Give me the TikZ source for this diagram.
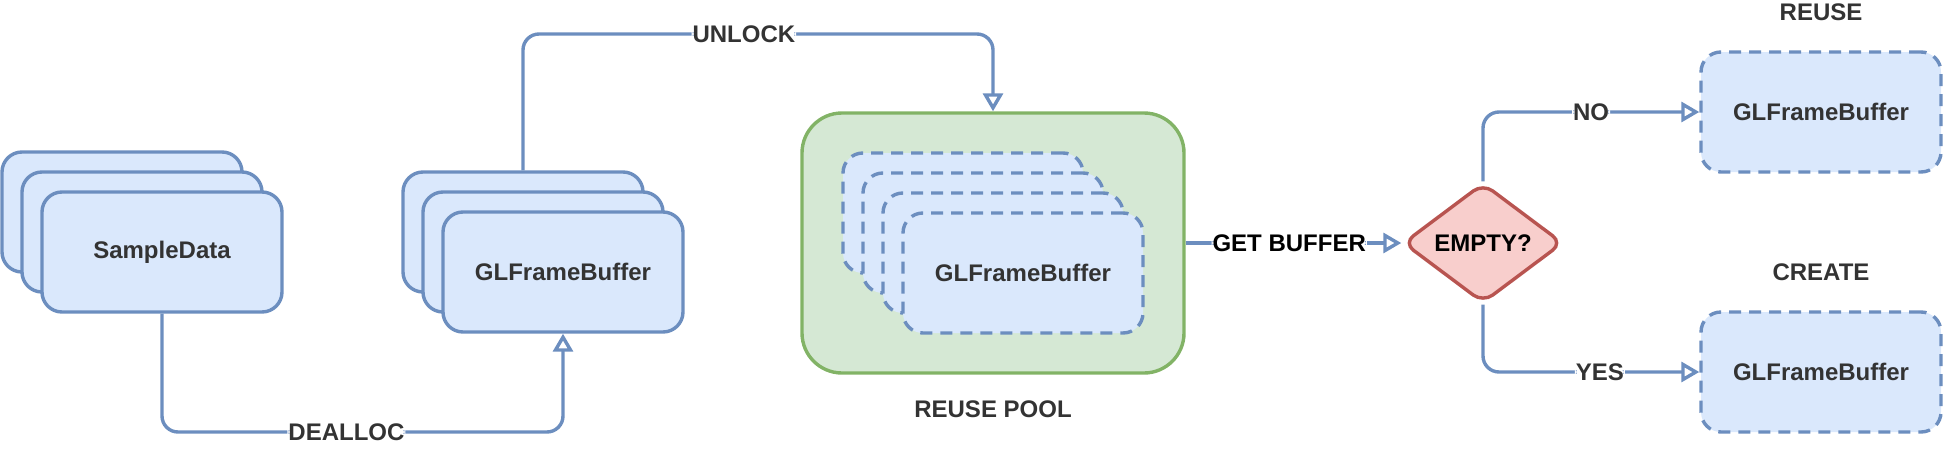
\documentclass[tikz,border=0pt]{standalone}
\usepackage{fontspec}
\setmainfont{Liberation Sans}
\usetikzlibrary{arrows.meta,shapes.geometric}
\definecolor{bfill}{HTML}{DAE8FC}
\definecolor{bline}{HTML}{6C8EBF}
\definecolor{gfill}{HTML}{D5E8D4}
\definecolor{gline}{HTML}{82B366}
\definecolor{rfill}{HTML}{F8CECC}
\definecolor{rline}{HTML}{B85450}
\definecolor{txt}{HTML}{333333}
\begin{document}
\begin{tikzpicture}[x=1pt, y=-1pt,
        font=\fontsize{12}{14}\selectfont\bfseries,
        buf/.style={draw=bline, fill=bfill, line width=1.7pt, rounded corners=10pt,
            minimum width=120pt, minimum height=60pt, inner sep=0pt, text=txt},
        free/.style={buf, dash pattern=on 6pt off 4pt},
        pool/.style={draw=gline, fill=gfill, line width=1.7pt, rounded corners=20pt,
            minimum width=191pt, minimum height=130pt, inner sep=0pt},
        test/.style={diamond, draw=rline, fill=rfill, line width=1.7pt, rounded corners=6pt,
            minimum width=80pt, minimum height=60pt, inner sep=0pt, aspect=1.333},
        flow/.style={draw=bline, line width=1.7pt, rounded corners=8pt,
            -{Triangle[length=9pt, width=10pt, fill=white, line width=1.7pt]}},
        lbl/.style={fill=white, inner sep=0.5pt, text=txt},
        title/.style={text=txt}]
    \useasboundingbox (0,0) rectangle (972,225);

    % ---------- sample data stack ----------
    \node[buf] (sd1) at (61,106) {};
    \node[buf] (sd2) at (71,116) {};
    \node[buf] (sd3) at (81,126) {SampleData};

    % ---------- locked frame buffers ----------
    \node[buf] (gl1) at (261.5,116) {};
    \node[buf] (gl2) at (271.5,126) {};
    \node[buf] (gl3) at (281.5,136) {GLFrameBuffer};

    % ---------- reuse pool ----------
    \node[pool] (pool) at (496.5,121.5) {};
    \node[free] (pb1) at (481.5,106.5) {};
    \node[free] (pb2) at (491.5,116.5) {};
    \node[free] (pb3) at (501.5,126.5) {};
    \node[free] (pb4) at (511.5,136.5) {GLFrameBuffer};
    \node[title] (pooltitle) at (496.5,204.5) {REUSE POOL};

    % ---------- decision ----------
    \node[test] (empty) at (741.5,121.5) {EMPTY?};

    \node[free] (reuse) at (910.5,56) {GLFrameBuffer};
    \node[title] (reusetitle) at (910.5,6) {REUSE};
    \node[free] (create) at (910.5,186) {GLFrameBuffer};
    \node[title] (createtitle) at (910.5,136) {CREATE};

    % ---------- connectors ----------
    \coordinate (dbend) at (81,216);
    \coordinate (ubend) at (261.5,17);

    \draw[flow] (sd3.south) -- (dbend) -| node[lbl, pos=0.23] (dealloc) {DEALLOC} (gl3.south);
    \draw[flow] (gl1.north) -- (ubend) -| node[lbl, pos=0.235] (unlock) {UNLOCK} (pool.north);
    \draw[flow] (pool.east) -- node[lbl, text=black, pos=0.48] (getbuf) {GET BUFFER} (empty.west);
    \draw[flow] (empty.north) |- node[lbl, pos=0.75] (no) {NO} (reuse.west);
    \draw[flow] (empty.south) |- node[lbl, pos=0.77] (yes) {YES} (create.west);
\end{tikzpicture}
\end{document}
